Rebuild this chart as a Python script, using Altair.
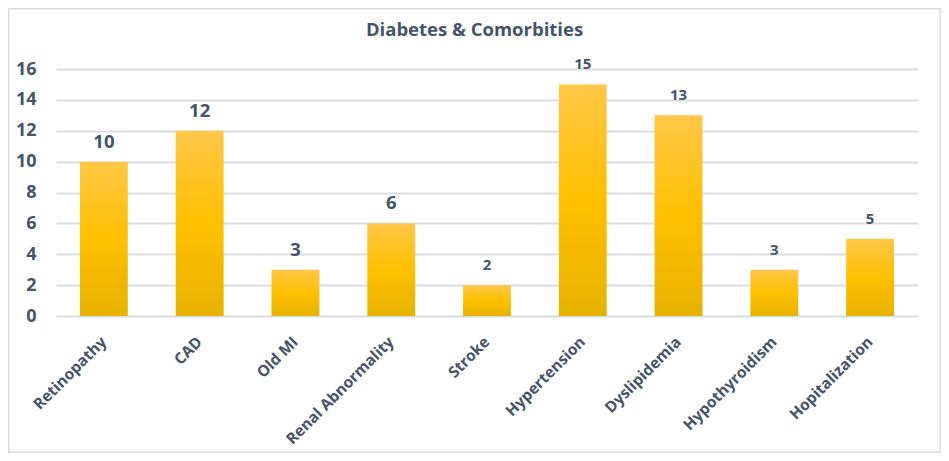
import altair as alt
import pandas as pd

TITLE = "Diabetes & Comorbities"
categories = ["Retinopathy", "CAD", "Old MI", "Renal Abnormality", "Stroke",
              "Hypertension", "Dyslipidemia", "Hypothyroidism", "Hopitalization"]
values = [10, 12, 3, 6, 2, 15, 13, 3, 5]
y_ticks = [0, 2, 4, 6, 8, 10, 12, 14, 16]

# style: which data labels are drawn in the larger font
large_label_categories = ["Retinopathy", "CAD", "Old MI", "Renal Abnormality"]

df = pd.DataFrame({"category": categories, "value": values})
df["large"] = df["category"].isin(large_label_categories)

FONT = "Open Sans"
TEXT = "#44546a"
GRID = "#dadee4"

W, H = 862, 247
PAD = {"left": 48, "top": 61, "right": 23, "bottom": 137}

gradient = alt.LinearGradient(
    gradient="linear",
    stops=[
        alt.GradientStop(color="#ffc748", offset=0),
        alt.GradientStop(color="#ffc000", offset=0.5),
        alt.GradientStop(color="#e6b200", offset=1),
    ],
    x1=0, x2=0, y1=0, y2=1,
)

x_scale = alt.Scale(paddingInner=0.5, paddingOuter=0.25)
y_scale = alt.Scale(domain=[0, 16], nice=False)
x_axis = alt.Axis(title=None)
y_axis = alt.Axis(title=None, values=y_ticks)

x = alt.X("category:N", sort=categories, scale=x_scale, axis=x_axis)
y = alt.Y("value:Q", scale=y_scale, axis=y_axis)

base = alt.Chart(df)
bars = base.mark_bar(color=gradient).encode(x=x, y=y)
labels = base.mark_text(font=FONT, fontWeight="bold", color=TEXT, baseline="middle", dy=-20).encode(
    x=x, y=y,
    text=alt.Text("value:Q"),
    size=alt.condition("datum.large", alt.value(18.5), alt.value(15)),
)

title = alt.Chart(pd.DataFrame({"t": [TITLE]})).mark_text(
    font=FONT, fontSize=18.5, fontWeight="bold", color=TEXT, align="center", baseline="middle"
).encode(x=alt.value(418.5), y=alt.value(-39), text="t:N")

border = alt.Chart(pd.DataFrame({"a": [0]})).mark_rect(
    fill="transparent", stroke="#d9dde3", strokeWidth=1.5
).encode(x=alt.value(-47.25), x2=alt.value(884.25), y=alt.value(-60.25), y2=alt.value(383.25))

chart = alt.layer(border, bars, labels, title).properties(
    width=W, height=H, padding=PAD, autosize=alt.AutoSizeParams(type="none")
).configure_view(
    strokeWidth=0
).configure_axisX(
    labelAngle=-45, labelAlign="right", labelBaseline="middle",
    labelPadding=23, labelFont=FONT, labelFontSize=15.5, labelFontWeight="bold",
    labelColor=TEXT, labelOverlap=False, labelBound=False,
    ticks=False, tickSize=0, domain=False, grid=False,
).configure_axisY(
    labelFont=FONT, labelFontSize=18, labelFontWeight="bold", labelColor=TEXT,
    labelPadding=20, labelOverlap=False, labelFlush=False,
    ticks=False, tickSize=0, domain=False, grid=True,
    gridColor=GRID, gridWidth=2,
)

chart.save("out.html", embed_options={"renderer": "svg", "actions": False})
